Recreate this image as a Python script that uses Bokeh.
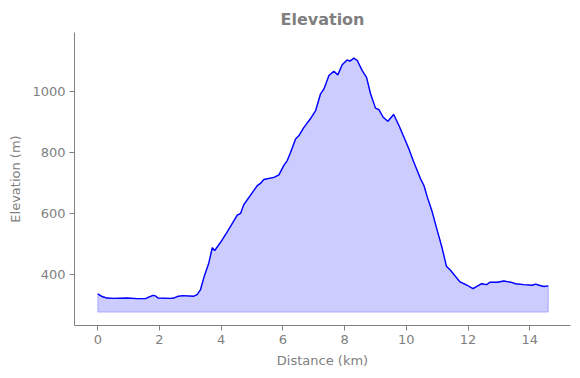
from bokeh.plotting import figure
from bokeh.models import Range1d, FixedTicker
from bokeh.embed import file_html
from bokeh.resources import INLINE

# Distance along the route (km)
distance_km = [0.00, 0.14, 0.30, 0.52, 0.95, 1.28, 1.55, 1.65, 1.79, 1.87, 1.95, 2.36, 2.46, 2.57,
               2.74, 3.11, 3.22, 3.33, 3.44, 3.60, 3.71, 3.79, 3.98, 4.19, 4.52, 4.63, 4.73, 5.06,
               5.17, 5.27, 5.38, 5.71, 5.87, 6.03, 6.14, 6.25, 6.41, 6.52, 6.68, 6.89, 7.06, 7.22,
               7.33, 7.49, 7.65, 7.78, 7.92, 8.08, 8.17, 8.30, 8.41, 8.57, 8.71, 8.84, 9.00, 9.11,
               9.25, 9.40, 9.59, 9.76, 9.92, 10.08, 10.24, 10.46, 10.57, 10.68, 10.84, 11.00, 11.16,
               11.30, 11.43, 11.73, 11.97, 12.16, 12.30, 12.44, 12.60, 12.71, 12.95, 13.16, 13.38,
               13.54, 13.81, 14.08, 14.19, 14.30, 14.46, 14.60]
# Elevation (m)
elevation_m = [338, 329, 324, 323, 324, 322, 322, 327, 333, 331, 324, 323, 324, 329,
               332, 330, 335, 352, 392, 440, 489, 480, 507, 540, 596, 602, 630, 677,
               693, 700, 713, 720, 728, 759, 775, 802, 846, 857, 884, 912, 939, 994,
               1010, 1054, 1068, 1056, 1089, 1105, 1101, 1111, 1103, 1070, 1048, 994, 947, 942,
               917, 904, 926, 890, 852, 814, 770, 715, 693, 655, 606, 546, 488,
               428, 415, 378, 366, 355, 363, 371, 368, 376, 376, 380, 376,
               371, 368, 366, 370, 366, 362, 364]
fill_base_m = 278
x_ticks = [0, 2, 4, 6, 8, 10, 12, 14]
y_ticks = [400, 600, 800, 1000]

GREY = "#808080"
FONT = "DejaVu Sans"

p = figure(width=580, height=378, output_backend="svg", toolbar_location=None,
           x_range=Range1d(-0.755, 15.32), y_range=Range1d(234, 1195),
           min_border_left=74, min_border_right=10, min_border_top=32, min_border_bottom=53,
           title="Elevation")
p.outline_line_color = None
p.background_fill_color = "white"
p.border_fill_color = "white"
p.xgrid.visible = False
p.ygrid.visible = False

p.title.align = "center"
p.title.text_font = FONT
p.title.text_font_size = "16px"
p.title.text_font_style = "bold"
p.title.text_color = GREY
p.title.standoff = 7

xs = distance_km + distance_km[::-1]
ys = elevation_m + [fill_base_m] * len(distance_km)
p.patch(xs, ys, fill_color="blue", fill_alpha=0.2, line_color="blue", line_alpha=0.2, line_width=1.2)
p.line(distance_km, elevation_m, line_color="blue", line_width=1.4)

for ax, ticks, label in ((p.xaxis[0], x_ticks, "Distance (km)"), (p.yaxis[0], y_ticks, "Elevation (m)")):
    ax.ticker = FixedTicker(ticks=ticks)
    ax.axis_label = label
    ax.axis_label_text_font = FONT
    ax.axis_label_text_font_size = "13px"
    ax.axis_label_text_font_style = "normal"
    ax.axis_label_text_color = GREY
    ax.major_label_text_font = FONT
    ax.major_label_text_font_size = "13px"
    ax.major_label_text_color = GREY
    ax.axis_line_color = GREY
    ax.major_tick_line_color = GREY
    ax.minor_tick_line_color = None
    ax.major_tick_out = 5
    ax.major_tick_in = 0
    ax.major_label_standoff = 4
    ax.axis_label_standoff = 6

open("out.html", "w").write(file_html(p, INLINE))
